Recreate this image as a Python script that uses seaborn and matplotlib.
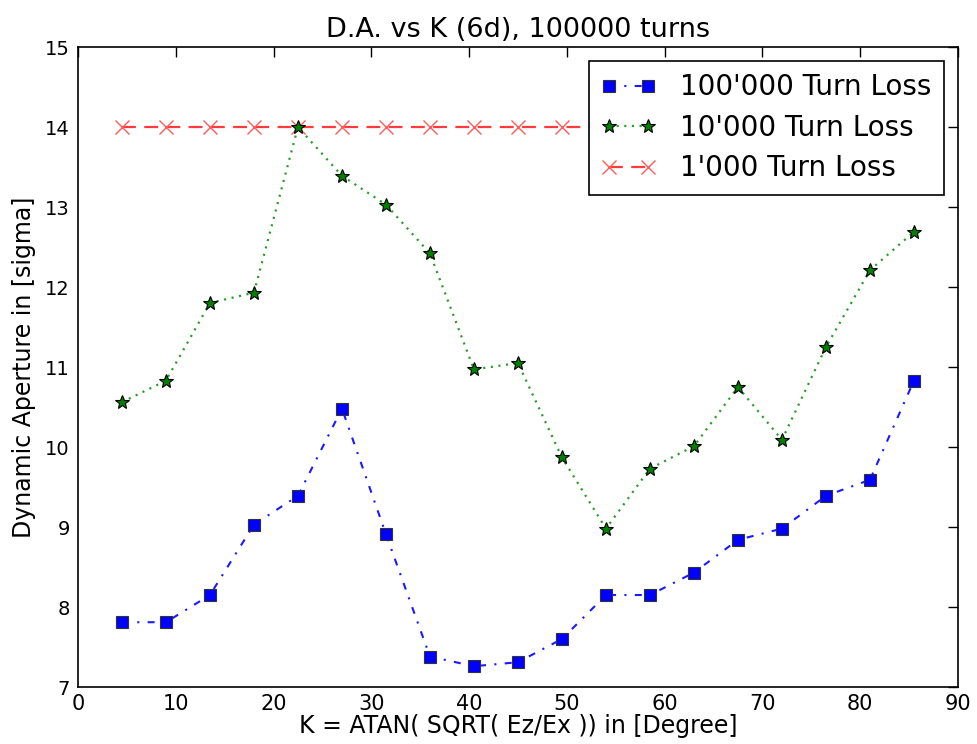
import numpy as np
import pandas as pd
import matplotlib
matplotlib.use("Agg")
import matplotlib.pyplot as plt
import seaborn as sns

# data
k_deg = [4.5, 9.0, 13.5, 18.0, 22.5, 27.0, 31.5, 36.0, 40.5, 45.0,
         49.5, 54.0, 58.5, 63.0, 67.5, 72.0, 76.5, 81.0, 85.5]
loss_100k = [7.81, 7.81, 8.15, 9.03, 9.39, 10.48, 8.91, 7.38, 7.26, 7.31,
             7.60, 8.15, 8.15, 8.43, 8.84, 8.98, 9.39, 9.59, 10.83]
loss_10k = [10.56, 10.83, 11.80, 11.93, 14.0, 13.39, 13.03, 12.42, 10.97, 11.05,
            9.87, 8.98, 9.73, 10.01, 10.75, 10.09, 11.25, 12.21, 12.69]
loss_1k = [14.0] * 19

df = pd.DataFrame({"k": k_deg, "l100k": loss_100k, "l10k": loss_10k, "l1k": loss_1k})

sns.set_style("white")
plt.rcParams['font.family'] = ['DejaVu Sans']
plt.rcParams['text.color'] = 'black'
plt.rcParams['axes.labelcolor'] = 'black'
plt.rcParams['xtick.color'] = 'black'
plt.rcParams['ytick.color'] = 'black'
plt.rcParams['lines.scale_dashes'] = False

fig = plt.figure(figsize=(9.77, 7.44), dpi=100)
ax = fig.add_axes([0.0798, 0.0766, 0.9007, 0.8602])

sns.lineplot(data=df, x="k", y="l100k", ax=ax, color="#1a1aff", linestyle=(0, (5, 6, 1.5, 6)),
             marker="s", markersize=8.5, markerfacecolor="blue", markeredgecolor="#333333",
             markeredgewidth=0.8, linewidth=1.5, label="100'000 Turn Loss")
sns.lineplot(data=df, x="k", y="l10k", ax=ax, color="#2a9a2a", linestyle=(0, (1.5, 4)),
             marker="*", markersize=10, markerfacecolor="green", markeredgecolor="black",
             markeredgewidth=0.8, linewidth=1.6, label="10'000 Turn Loss")
sns.lineplot(data=df, x="k", y="l1k", ax=ax, color="#ff3b3b", linestyle=(0, (10, 6)),
             marker="x", markersize=10, markeredgecolor="#ff5a5a",
             markeredgewidth=1.0, linewidth=1.6, label="1'000 Turn Loss", zorder=1)

ax.set_xlim(0, 90)
ax.set_ylim(7, 15)
ax.set_xticks(range(0, 91, 10))
ax.set_yticks(range(7, 16))
ax.tick_params(direction="in", top=True, right=True, length=7, width=1,
               labelsize=14, pad=6)
ax.tick_params(axis="x", labelsize=15, pad=5)
for s in ax.spines.values():
    s.set_color("black")
    s.set_linewidth(1.2)

ax.set_title("D.A. vs K (6d), 100000 turns", fontsize=19.5, pad=7)
ax.set_xlabel("K = ATAN( SQRT( Ez/Ex )) in [Degree]", fontsize=17, labelpad=0)
ax.set_ylabel("Dynamic Aperture in [sigma]", fontsize=17, labelpad=6)

leg = ax.legend(loc="upper right", fontsize=20, numpoints=2, fancybox=False,
                framealpha=1, edgecolor="black", borderaxespad=0.5,
                handlelength=2.0, handletextpad=0.85, borderpad=0.45,
                labelspacing=0.45)
leg.get_frame().set_linewidth(1.2)

fig.savefig("out.png", dpi=100)
